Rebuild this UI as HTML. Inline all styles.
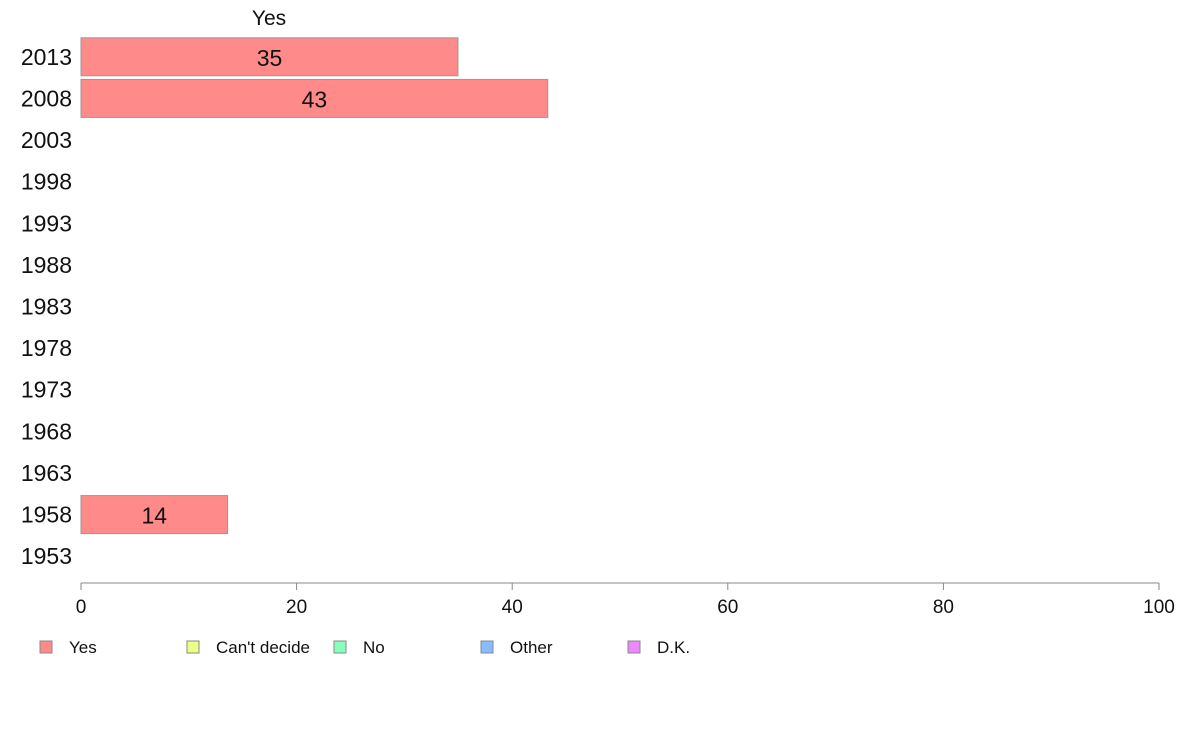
<!DOCTYPE html>
<html><head><meta charset="utf-8"><style>
body{margin:0;background:#fff;}
svg{display:block;font-family:"Liberation Sans",Arial,sans-serif;}
</style></head><body>
<svg id="chart" width="1188" height="736">
<text x="269" y="25" font-size="21" text-anchor="middle" fill="#111">Yes</text>
<g id="ylabels"></g><g id="bars"></g><g id="xaxis"></g><g id="legend"></g>
</svg>
<script>
const years=["2013","2008","2003","1998","1993","1988","1983","1978","1973","1968","1963","1958","1953"];
const yesValues=[34.97,43.3,null,null,null,null,null,null,null,null,null,13.6,null];
const xTicks=[0,20,40,60,80,100];
const legendLabels=["Yes","Can't decide","No","Other","D.K."];
const legendColors=["#ff8a8a","#eeff88","#88ffbb","#88bbff","#ee88ff"];
const NS="http://www.w3.org/2000/svg";
function mk(t,a,p){const e=document.createElementNS(NS,t);for(const k in a)e.setAttribute(k,a[k]);p.appendChild(e);return e;}
const x0=81,x1=1159,yTop=36,yBot=577;
const xs=v=>x0+(v/100)*(x1-x0);
const band=(yBot-yTop)/years.length;
const yc=i=>yTop+band*(i+0.5);
const yl=document.getElementById('ylabels'),bars=document.getElementById('bars'),xa=document.getElementById('xaxis'),lg=document.getElementById('legend');
years.forEach((y,i)=>{
 const t=mk('text',{x:72,y:yc(i)+8,'font-size':23,'text-anchor':'end',fill:'#111'},yl);t.textContent=y;
 
 
 const v=yesValues[i];
 if(v!=null){
  const r=mk('rect',{x:x0,y:yc(i)-19,width:xs(v)-x0,height:38,fill:'#ff8a8a',stroke:'#999','stroke-width':1},bars);
  
  
  const l=mk('text',{x:(x0+xs(v))/2,y:yc(i)+9,'font-size':23,'text-anchor':'middle',fill:'#111'},bars);l.textContent=Math.round(v);
  
  
 }
});
const ax=mk('line',{x1:x0,x2:x1,y1:583,y2:583,stroke:'#888'},xa);


xTicks.forEach(v=>{
 mk('line',{x1:xs(v),x2:xs(v),y1:583,y2:590,stroke:'#888'},xa);
 const t=mk('text',{x:xs(v),y:613,'font-size':19,'text-anchor':'middle',fill:'#111'},xa);t.textContent=v;
 
 
});
legendLabels.forEach((lab,i)=>{
 const gx=40+i*147;
 const g=mk('g',{},lg);
 
 
 mk('rect',{x:gx,y:641,width:12,height:12,fill:legendColors[i],stroke:'#888'},g);
 const t=mk('text',{x:gx+29,y:653,'font-size':17,fill:'#111'},g);t.textContent=lab;
});
</script>
</body></html>
